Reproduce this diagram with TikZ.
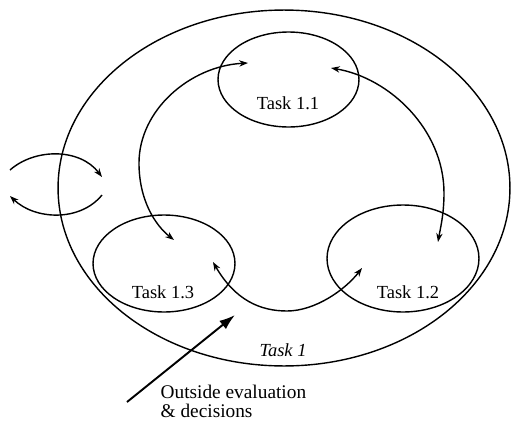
\documentclass[tikz,border=0pt]{standalone}
\usepackage{fontspec}
\setmainfont{Liberation Serif}
\usetikzlibrary{shapes.geometric,arrows.meta}
\begin{document}
\begin{tikzpicture}[x=0.02cm,y=-0.02cm,
  line width=0.8pt,
  ell/.style={draw,ellipse,inner sep=0pt,outer sep=0pt},
  tasklabel/.style={font=\fontsize{10.5}{12}\selectfont,inner sep=0pt},
  loop/.style={{Stealth[length=5pt,width=3.6pt]}-{Stealth[length=5pt,width=3.6pt]}},
  oneway/.style={-{Stealth[length=5pt,width=3.6pt]}},
  bigarrow/.style={line width=1.1pt,-{Latex[length=9pt,width=6pt]}}]
\useasboundingbox (0,0) rectangle (511,423);

% outer task and its three sub-tasks
\node[ell,minimum width=9.04cm,minimum height=7.12cm] (task1) at (284,188) {};
\node[ell,minimum width=2.82cm,minimum height=1.90cm] (t11) at (288.5,79.5) {};
\node[ell,minimum width=2.84cm,minimum height=1.94cm] (t13) at (164,263.5) {};
\node[ell,minimum width=3.04cm,minimum height=2.14cm] (t12) at (403,258.5) {};

\node[tasklabel] (l11) at (288,103) {Task 1.1};
\node[tasklabel] (l13) at (163,292) {Task 1.3};
\node[tasklabel] (l12) at (408,292) {Task 1.2};
\node[tasklabel,font=\fontsize{10.5}{12}\selectfont\itshape] (l1) at (283,350) {Task 1};

% arrow ends inside the sub-tasks
\coordinate (a11l) at (248,63);
\coordinate (a11r) at (331,68);
\coordinate (a13t) at (174,240);
\coordinate (a13b) at (213,262);
\coordinate (a12t) at (438,242);
\coordinate (a12b) at (362,268);

% exchanges between sub-tasks
\draw[loop] (a11l) .. controls (190,66) and (139,110) .. (139,163)
                   .. controls (139,200) and (155,225) .. (a13t);
\draw[loop] (a11r) .. controls (390,78) and (444,130) .. (444,193)
                   .. controls (444,215) and (440,230) .. (a12t);
\draw[loop] (a13b) .. controls (235,300) and (260,311) .. (287,311)
                   .. controls (315,311) and (345,290) .. (a12b);

% exchange with the outside across the boundary
\coordinate (ex1) at (10,170);
\coordinate (ex2) at (102,177);
\coordinate (ex3) at (102,195);
\coordinate (ex4) at (10,196);
\draw[oneway] (ex1) .. controls (35,148) and (80,148) .. (ex2);
\draw[oneway] (ex3) .. controls (80,222) and (35,220) .. (ex4);

% outside evaluation
\node[font=\fontsize{11}{11.2}\selectfont,align=left,anchor=north west,inner sep=0pt]
  (ext) at (160,384) {Outside evaluation\\\& decisions};
\coordinate (exs) at (127,402);
\coordinate (exe) at (235,315);
\draw[bigarrow] (exs) -- (exe);
\end{tikzpicture}
\end{document}
